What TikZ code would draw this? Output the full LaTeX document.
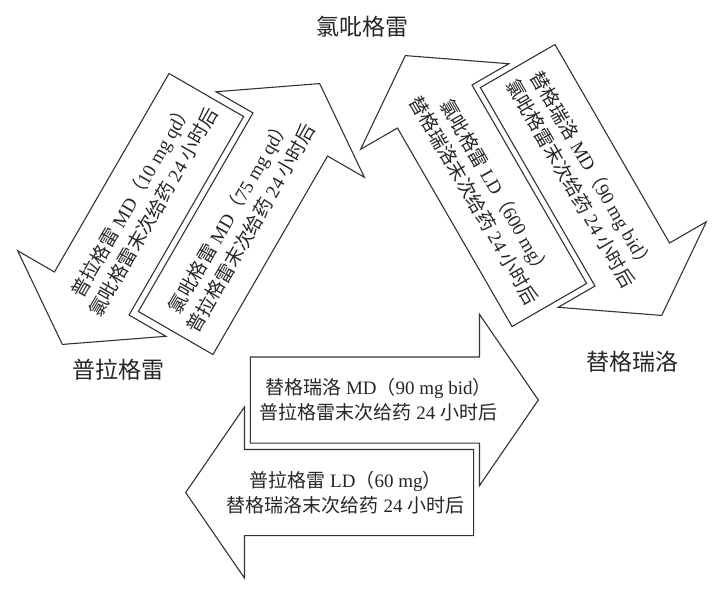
\documentclass[tikz,border=0pt]{standalone}
\usepackage{fontspec}
\setmainfont{Liberation Serif}
\newfontfamily\cjk{Noto Sans CJK SC}
\usepackage{tikz}
\usetikzlibrary{shapes.arrows,calc}
\newcommand{\zh}[1]{{\cjk #1}}

\begin{document}
\begin{tikzpicture}[x=0.5pt, y=-0.5pt]
\tikzstyle{switcharrow}=[single arrow, draw=black!80, fill=white, line width=0.55pt, inner xsep=0pt, inner ysep=21.25pt, single arrow head extend=21.25pt, single arrow tip angle=111, minimum height=144pt, anchor=tip]
\tikzstyle{switchtext}=[align=center, text=black!85, inner sep=0pt, font=\fontsize{9.5}{12.5}\selectfont]
\tikzstyle{drug}=[text=black!85, font=\fontsize{11.5}{14}\selectfont\cjk]

\useasboundingbox (0,0) rectangle (722,591);

  % drug names
  \node[drug] (clo) at (362,27)  {氯吡格雷};
  \node[drug] (pra) at (118,370) {普拉格雷};
  \node[drug] (tic) at (632,362) {替格瑞洛};

  % clopidogrel <-> prasugrel
  \node[switcharrow, rotate=240] (clo2pra) at (62,345) {};
  \node[switcharrow, rotate=60]  (pra2clo) at (320,83) {};
  % clopidogrel <-> ticagrelor
  \node[switcharrow, rotate=120] (tic2clo) at (405,55) {};
  \node[switcharrow, rotate=-60] (clo2tic) at (662,316) {};
  % prasugrel <-> ticagrelor
  \node[switcharrow]             (pra2tic) at (539,400) {};
  \node[switcharrow, rotate=180] (tic2pra) at (185,492.5) {};

  \node[switchtext, rotate=60] (clo2pra-txt) at ($(clo2pra.tail)!0.445!(clo2pra.tip)$)
    {\zh{普拉格雷} MD\zh{（}10 mg qd\zh{）}\\\zh{氯吡格雷末次给药} 24 \zh{小时后}};
  \node[switchtext, rotate=60] (pra2clo-txt) at ($(pra2clo.tail)!0.445!(pra2clo.tip)$)
    {\zh{氯吡格雷} MD\zh{（}75 mg qd\zh{）}\\\zh{普拉格雷末次给药} 24 \zh{小时后}};
  \node[switchtext, rotate=-60] (tic2clo-txt) at ($(tic2clo.tail)!0.445!(tic2clo.tip)$)
    {\zh{氯吡格雷} LD\zh{（}600 mg\zh{）}\\\zh{替格瑞洛末次给药} 24 \zh{小时后}};
  \node[switchtext, rotate=-60] (clo2tic-txt) at ($(clo2tic.tail)!0.445!(clo2tic.tip)$)
    {\zh{替格瑞洛} MD\zh{（}90 mg bid\zh{）}\\\zh{氯吡格雷末次给药} 24 \zh{小时后}};
  \node[switchtext] (pra2tic-txt) at ($(pra2tic.tail)!0.445!(pra2tic.tip)$)
    {\zh{替格瑞洛} MD\zh{（}90 mg bid\zh{）}\\\zh{普拉格雷末次给药} 24 \zh{小时后}};
  \node[switchtext] (tic2pra-txt) at ($(tic2pra.tail)!0.445!(tic2pra.tip)$)
    {\zh{普拉格雷} LD\zh{（}60 mg\zh{）}\\\zh{替格瑞洛末次给药} 24 \zh{小时后}};

\end{tikzpicture}
\end{document}
